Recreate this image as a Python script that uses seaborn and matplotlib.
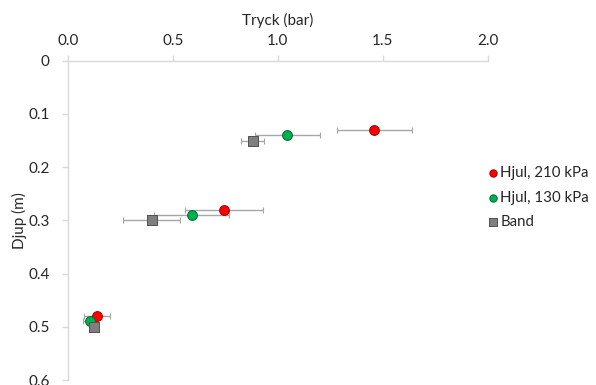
import matplotlib
matplotlib.use("Agg")
import matplotlib.pyplot as plt
import seaborn as sns
import pandas as pd
import numpy as np
from matplotlib.ticker import FixedLocator, FuncFormatter

series_names = ["Hjul, 210 kPa", "Hjul, 130 kPa", "Band"]

depth_210 = [0.13, 0.28, 0.48]
press_210 = [1.46, 0.745, 0.14]
err_210 = [0.18, 0.185, 0.063]

depth_130 = [0.14, 0.29, 0.49]
press_130 = [1.045, 0.59, 0.105]
err_130 = [0.155, 0.18, 0.03]

depth_band = [0.15, 0.30, 0.50]
press_band = [0.88, 0.40, 0.125]
err_band = [0.055, 0.135, 0.02]

x_ticks = [0.0, 0.5, 1.0, 1.5, 2.0]
y_ticks = [0, 0.1, 0.2, 0.3, 0.4, 0.5, 0.6]

sns.set_style("white")
plt.rcParams['font.family'] = ['Lato', 'DejaVu Sans']

frames = []
for name, d, p, e in zip(series_names,
                         [depth_210, depth_130, depth_band],
                         [press_210, press_130, press_band],
                         [err_210, err_130, err_band]):
    frames.append(pd.DataFrame({"Serie": name, "Djup": d, "Tryck": p, "err": e}))
df = pd.concat(frames, ignore_index=True)

colors = {"Hjul, 210 kPa": "#FF0000", "Hjul, 130 kPa": "#00B050", "Band": "#7F7F7F"}
edges = {"Hjul, 210 kPa": "#A00000", "Hjul, 130 kPa": "#006B30", "Band": "#505050"}
markers = {"Hjul, 210 kPa": "o", "Hjul, 130 kPa": "o", "Band": "s"}

FS = 11
FS_LEG = 10.8
fig = plt.figure(figsize=(5.96, 3.85), dpi=100)
ax = fig.add_axes([67.7/596, 5/385, 420/596, 319.3/385])

for name in series_names:
    sub = df[df["Serie"] == name]
    ax.errorbar(sub["Tryck"], sub["Djup"], xerr=sub["err"], fmt="none",
                ecolor="#A6A6A6", elinewidth=1.0, capsize=2.2, capthick=0.8, zorder=1)

for name in series_names:
    sub = df[df["Serie"] == name]
    sns.scatterplot(data=sub, x="Tryck", y="Djup", ax=ax, color=colors[name],
                    marker=markers[name], s=50, edgecolor=edges[name], linewidth=0.7,
                    zorder=3, label=name)

ax.set_xlim(0, 2.0)
ax.set_ylim(0.6, 0)
ax.xaxis.set_major_locator(FixedLocator(x_ticks))
ax.yaxis.set_major_locator(FixedLocator(y_ticks))
ax.xaxis.set_major_formatter(FuncFormatter(lambda v, p: f"{v:.1f}"))
ax.yaxis.set_major_formatter(FuncFormatter(lambda v, p: "0" if v == 0 else f"{v:.1f}"))
ax.xaxis.tick_top()
ax.xaxis.set_label_position("top")
ax.set_xlabel("Tryck (bar)", fontsize=FS, color="#262626", labelpad=6)
ax.set_ylabel("Djup (m)", fontsize=FS, color="#262626", labelpad=1)

for s in ["right", "bottom"]:
    ax.spines[s].set_visible(False)
for s in ["left", "top"]:
    ax.spines[s].set_color("#D9D9D9")
    ax.spines[s].set_linewidth(1.0)
ax.tick_params(axis="both", which="major", length=4, width=1.0, color="#D9D9D9",
               labelsize=FS, labelcolor="#262626", direction="out")
ax.tick_params(axis="x", top=True, bottom=False, pad=5.5)
ax.tick_params(axis="y", left=True, pad=9)
ax.grid(False)

ax.get_legend().remove()
handles, labels = ax.get_legend_handles_labels()
leg = fig.legend(handles, labels, loc="center left", bbox_to_anchor=(487/596, 0.487),
                 frameon=False, fontsize=FS_LEG, handletextpad=0.1, labelspacing=0.72,
                 handlelength=0.8, markerscale=0.75, borderpad=0, borderaxespad=0)
for t in leg.get_texts():
    t.set_color("#262626")

fig.savefig("out.png", dpi=100)
